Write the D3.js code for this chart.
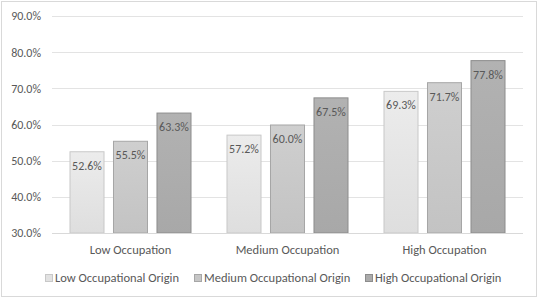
<!DOCTYPE html>
<html>
<head>
<meta charset="utf-8">
<script src="https://cdnjs.cloudflare.com/ajax/libs/d3/7.8.5/d3.min.js"></script>
<style>
  body { margin: 0; background: #fff; }
  text { font-family: Carlito, Lato, "Open Sans", sans-serif; fill: #595959; }
</style>
</head>
<body>
<svg id="chart"></svg>
<script>
// data
var categories = ["Low Occupation", "Medium Occupation", "High Occupation"];
var series = ["Low Occupational Origin", "Medium Occupational Origin", "High Occupational Origin"];
var lowOrigin = [52.6, 57.2, 69.3];
var mediumOrigin = [55.5, 60.0, 71.7];
var highOrigin = [63.3, 67.5, 77.8];
var yTicks = [30, 40, 50, 60, 70, 80, 90];

var width = 540, height = 300;
var plot = {left: 52, right: 523, top: 16, bottom: 233};

var fills = ["#e2e2e2", "#c6c6c6", "#ababab"];
var strokes = ["#c8c8c8", "#a6a6a6", "#8c8c8c"];

var values = [lowOrigin, mediumOrigin, highOrigin];
var data = [];
categories.forEach(function(c, i) {
  series.forEach(function(s, j) {
    data.push({cat: c, ser: s, idx: j, value: values[j][i]});
  });
});

var svg = d3.select("#chart")
  .attr("width", width)
  .attr("height", height);

// outer frame
svg.append("rect")
  .attr("x", 1.5).attr("y", 1.5)
  .attr("width", 535).attr("height", 295)
  .attr("fill", "#fff")
  .attr("stroke", "#d9d9d9");

var defs = svg.append("defs");
fills.forEach(function(f, i) {
  var g = defs.append("linearGradient")
    .attr("id", "grad" + i)
    .attr("x1", 0).attr("y1", 0).attr("x2", 0).attr("y2", 1);
  g.append("stop").attr("offset", "0%").attr("stop-color", d3.color(f).brighter(0.12));
  g.append("stop").attr("offset", "100%").attr("stop-color", d3.color(f).darker(0.05));
});

var x0 = d3.scaleBand()
  .domain(categories)
  .range([plot.left, plot.right]);

var x1 = d3.scaleBand()
  .domain(series)
  .range([17.5, 139.5])
  .paddingInner(0.195);

var y = d3.scaleLinear()
  .domain([30, 90])
  .range([plot.bottom, plot.top]);

// gridlines
svg.append("g")
  .selectAll("line")
  .data(yTicks.slice(1))
  .enter()
  .append("line")
    .attr("x1", plot.left)
    .attr("x2", plot.right)
    .attr("y1", d => Math.round(y(d)) + 0.5)
    .attr("y2", d => Math.round(y(d)) + 0.5)
    .attr("stroke", "#e3e3e3");

// y axis labels
var yAxis = svg.append("g")
  .attr("transform", "translate(" + (plot.left - 11) + ",0)")
  .call(d3.axisLeft(y).tickValues(yTicks).tickSize(0).tickPadding(0)
    .tickFormat(d => d.toFixed(1) + "%"));
yAxis.select(".domain").remove();
yAxis.selectAll("text")
  .style("font-size", "12px")
  .attr("fill", "#595959");

// bars
svg.append("g")
  .selectAll("rect")
  .data(data)
  .enter()
  .append("rect")
    .attr("x", d => x0(d.cat) + x1(d.ser) + 0.5)
    .attr("y", d => y(d.value) + 0.5)
    .attr("width", x1.bandwidth() - 1)
    .attr("height", d => y(30) - y(d.value) - 0.5)
    .attr("fill", d => "url(#grad" + d.idx + ")")
    .attr("stroke", d => strokes[d.idx]);

// value labels
svg.append("g")
  .selectAll("text")
  .data(data)
  .enter()
  .append("text")
    .attr("x", d => x0(d.cat) + x1(d.ser) + x1.bandwidth() / 2)
    .attr("y", d => y(d.value) + 18.5)
    .attr("text-anchor", "middle")
    .style("font-size", "12px")
    .text(d => d.value.toFixed(1) + "%");

// x axis baseline
svg.append("line")
  .attr("x1", plot.left).attr("x2", plot.right)
  .attr("y1", plot.bottom + 0.5).attr("y2", plot.bottom + 0.5)
  .attr("stroke", "#d9d9d9");

// category labels
var xAxis = svg.append("g")
  .attr("transform", "translate(0," + plot.bottom + ")")
  .call(d3.axisBottom(x0).tickSize(0).tickPadding(0));
xAxis.select(".domain").remove();
xAxis.selectAll("text")
  .attr("dy", null)
  .attr("y", 21)
  .style("font-size", "12.5px")
  .attr("fill", "#595959");

// legend
var legendX = [45, 194, 365];
var legend = svg.append("g")
  .selectAll("g")
  .data(series)
  .enter()
  .append("g")
    .attr("transform", (d, i) => "translate(" + legendX[i] + ",274)");
legend.append("rect")
  .attr("x", 0.5).attr("y", 0.5)
  .attr("width", 7).attr("height", 7)
  .attr("fill", (d, i) => fills[i])
  .attr("stroke", (d, i) => strokes[i]);
legend.append("text")
  .attr("x", 10)
  .attr("y", 8)
  .style("font-size", "12.5px")
  .text(d => d);
</script>
</body>
</html>
